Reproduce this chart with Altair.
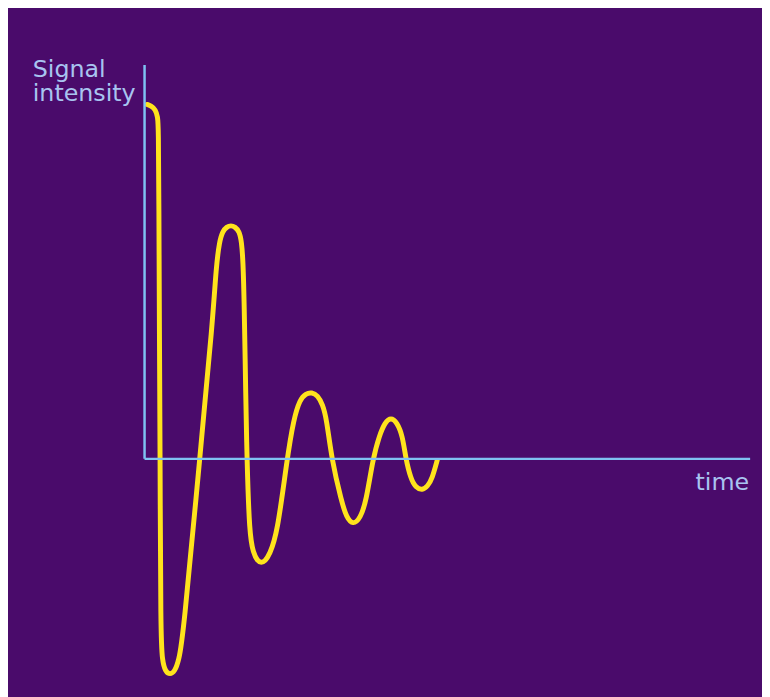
import altair as alt
import pandas as pd

# Signal curve (time, intensity)
time = [0.041, 0.114, 0.180, 0.217, 0.229, 0.237, 0.245, 0.257, 0.266, 0.294,
        0.343, 0.420, 0.498, 0.564, 0.637, 0.910, 1.127, 1.181, 1.237, 1.291,
        1.356, 1.426, 1.495, 1.564, 1.601, 1.626, 1.645, 1.672, 1.691, 1.732,
        1.797, 1.863, 1.928, 1.993, 2.059, 2.190, 2.353, 2.462, 2.565, 2.663,
        2.761, 2.859, 2.941, 3.007, 3.088, 3.252, 3.333, 3.443, 3.562, 3.660,
        3.770, 3.877, 3.971, 4.069, 4.167, 4.260, 4.314, 4.395, 4.477, 4.587,
        4.673, 4.750, 4.832]
signal = [0.900, 0.896, 0.887, 0.869, 0.842, 0.653, 0.327, 0.0, -0.452, -0.513,
          -0.540, -0.548, -0.540, -0.513, -0.452, 0.0, 0.352, 0.486, 0.553, 0.578,
          0.589, 0.593, 0.589, 0.578, 0.553, 0.503, 0.402, 0.151, 0.0, -0.193,
          -0.239, -0.259, -0.264, -0.259, -0.244, -0.193, 0.0, 0.101, 0.151, 0.166,
          0.169, 0.161, 0.138, 0.101, 0.0, -0.108, -0.148, -0.168, -0.151, -0.108,
          0.0, 0.059, 0.093, 0.105, 0.093, 0.059, 0.0, -0.050, -0.073, -0.080,
          -0.070, -0.050, -0.004]

# Axis extents
axis_time = [0.0, 10.0]
axis_signal = [0.0, 1.0]

# Labels
y_label_lines = ["Signal", "intensity"]
y_label_t = [-1.846, -1.846]
y_label_v = [0.970, 0.910]
x_label = "time"
x_label_pos = [9.984, -0.080]

BG = "#4a0b6b"
AXIS = "#7fc2f2"
TEXT = "#a8c4f0"
YELLOW = "#ffe31c"

xs = alt.Scale(domain=[-2.255, 10.196], nice=False, zero=False)
ys = alt.Scale(domain=[-0.5955, 1.1357], nice=False, zero=False)

curve_df = pd.DataFrame({"t": time, "v": signal, "i": list(range(len(time)))})
curve = alt.Chart(curve_df).mark_line(
    color=YELLOW, strokeWidth=5, interpolate="basis", strokeCap="round",
    strokeJoin="round"
).encode(
    x=alt.X("t:Q", scale=xs, axis=None),
    y=alt.Y("v:Q", scale=ys, axis=None),
    order="i:Q",
)

vaxis_df = pd.DataFrame({"t": [axis_time[0]], "v": [axis_signal[0]], "v2": [axis_signal[1]]})
vaxis = alt.Chart(vaxis_df).mark_rule(color=AXIS, strokeWidth=2.5).encode(
    x=alt.X("t:Q", scale=xs, axis=None),
    y=alt.Y("v:Q", scale=ys, axis=None),
    y2="v2:Q",
)

haxis_df = pd.DataFrame({"t": [axis_time[0]], "t2": [axis_time[1]], "v": [axis_signal[0]]})
haxis = alt.Chart(haxis_df).mark_rule(color=AXIS, strokeWidth=2.5).encode(
    x=alt.X("t:Q", scale=xs, axis=None),
    x2="t2:Q",
    y=alt.Y("v:Q", scale=ys, axis=None),
)

ylab_df = pd.DataFrame({"t": y_label_t, "v": y_label_v, "label": y_label_lines})
ylab = alt.Chart(ylab_df).mark_text(
    align="left", baseline="alphabetic", font="DejaVu Sans", fontSize=24, color=TEXT
).encode(
    x=alt.X("t:Q", scale=xs, axis=None),
    y=alt.Y("v:Q", scale=ys, axis=None),
    text="label:N",
)

xlab_df = pd.DataFrame({"t": [x_label_pos[0]], "v": [x_label_pos[1]], "label": [x_label]})
xlab = alt.Chart(xlab_df).mark_text(
    align="right", baseline="alphabetic", font="DejaVu Sans", fontSize=24, color=TEXT
).encode(
    x=alt.X("t:Q", scale=xs, axis=None),
    y=alt.Y("v:Q", scale=ys, axis=None),
    text="label:N",
)

chart = alt.layer(curve, vaxis, haxis, ylab, xlab).properties(
    width=762, height=689, background=BG, padding=0,
    autosize=alt.AutoSizeParams(type="none"),
).configure_view(stroke=None)

chart.save("out.html", embed_options={"renderer": "svg", "actions": False})
